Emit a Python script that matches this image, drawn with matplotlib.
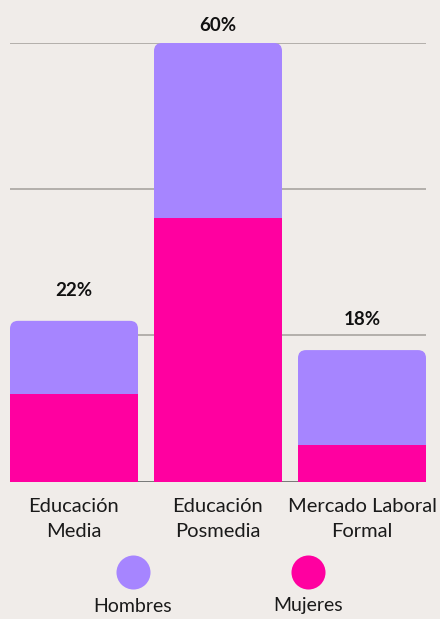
import matplotlib
matplotlib.use('Agg')
import matplotlib.pyplot as plt
import matplotlib.patches as patches
from matplotlib import font_manager

# Data
categorias = ['Educación\nMedia', 'Educación\nPosmedia', 'Mercado Laboral\nFormal']
mujeres = [12, 36, 5]
hombres = [10, 24, 13]
totales = ['22%', '60%', '18%']

bg = '#f0ece9'
c_hombres = '#a685ff'
c_mujeres = '#ff00a0'

names = {f.name for f in font_manager.fontManager.ttflist}
fam = 'Lato' if 'Lato' in names else 'DejaVu Sans'

W, H = 440, 619
fig = plt.figure(figsize=(W / 100, H / 100), dpi=100, facecolor=bg)
ax = fig.add_axes([10 / W, 137.3 / H, 416 / W, 438.7 / H])
ax.set_facecolor(bg)

width = 128 / 144
x = range(len(categorias))
ax.set_xlim(-width / 2, 2 + width / 2)
ax.set_ylim(0, 60)

# gridlines
for g in [20, 40, 60]:
    ax.axhline(g, color='#b3afab', lw=1.4, zorder=0)
ax.axhline(0, color='#777777', lw=1.4, zorder=0)

# radius for rounded tops (px -> data)
r_px = 8
rx = r_px * (2 + width) / 416
ry = r_px * 60 / 438.7

for i in x:
    m = mujeres[i]
    h = hombres[i]
    left = i - width / 2
    ax.bar(i, m, width=width, color=c_mujeres, zorder=2)
    top = m + h
    # rounded top segment
    box = patches.FancyBboxPatch((left + rx, m), width - 2 * rx, h - ry,
                                 boxstyle='round,pad=%f' % rx,
                                 mutation_aspect=ry / rx,
                                 facecolor=c_hombres, edgecolor='none', zorder=1)
    ax.add_patch(box)
    ax.add_patch(patches.Rectangle((left, m), width, h - ry, facecolor=c_hombres,
                                   edgecolor='none', zorder=1.5))
    ax.text(i, min(top + 4.2, 62.4), totales[i], ha='center', va='center',
            fontsize=13.5, fontweight='bold', family=fam, color='#111111')

ax.set_xticks(list(x))
ax.set_xticklabels(categorias, fontsize=14.5, family=fam, fontweight='normal',
                   color='#1a1a1a', linespacing=1.55)
ax.tick_params(axis='x', length=0, pad=12)
ax.set_yticks([])
for s in ax.spines.values():
    s.set_visible(False)

# legend
leg_x = [133, 308]
leg_lab = ['Hombres', 'Mujeres']
leg_col = [c_hombres, c_mujeres]
for lx, lab, col in zip(leg_x, leg_lab, leg_col):
    fig.add_artist(plt.Line2D([lx / W], [1 - 572 / H], marker='o', markersize=24.5,
                              markerfacecolor=col, markeredgecolor='none',
                              transform=fig.transFigure))
    fig.text(lx / W, 1 - 606 / H, lab, ha='center', va='center', fontsize=14,
             family=fam, fontweight='normal', color='#1a1a1a')

fig.savefig('out.png', dpi=100, facecolor=bg)
